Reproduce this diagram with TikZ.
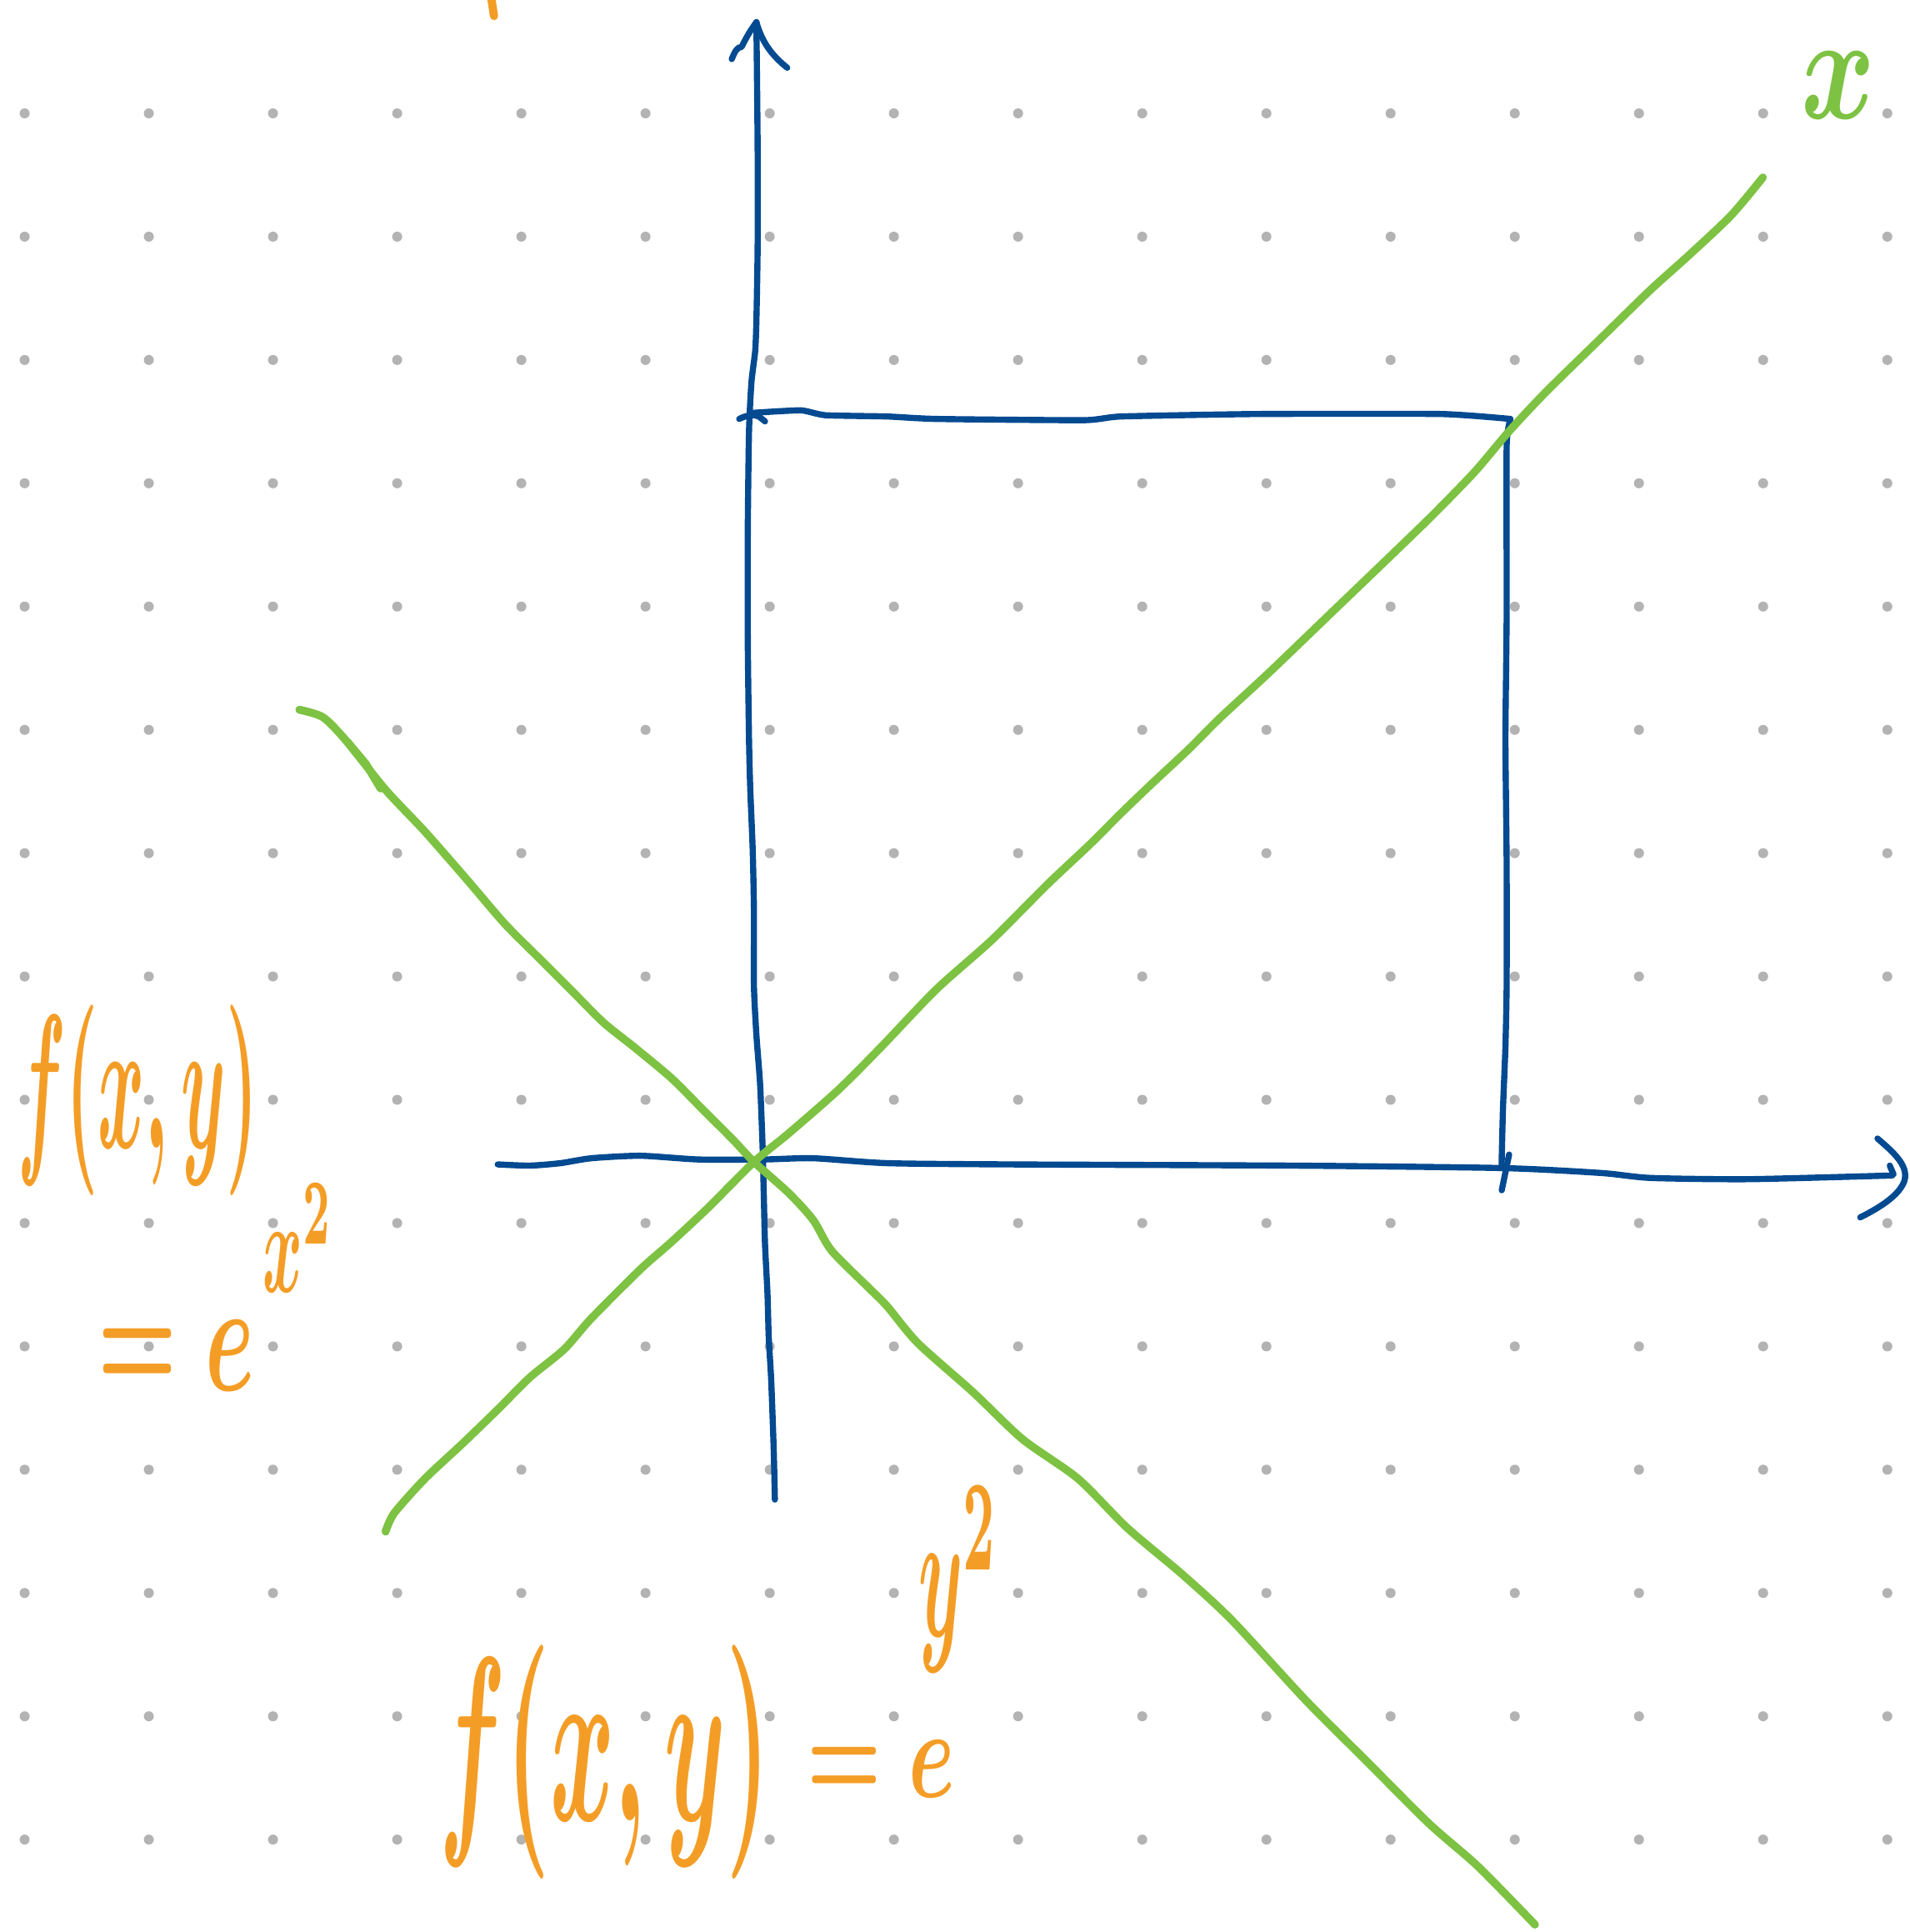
\documentclass[tikz,border=0pt]{standalone}
\usepackage{tikz}
\definecolor{inkblue}{RGB}{4,74,145}
\definecolor{inkgreen}{RGB}{125,194,66}
\definecolor{inkorange}{RGB}{244,157,38}
\definecolor{dotgray}{RGB}{179,179,179}
\begin{document}
\begin{tikzpicture}[x=0.1478mm,y=-0.1478mm,
  bluepen/.style={draw=inkblue,line width=2.1pt,line cap=round,line join=round},
  greenpen/.style={draw=inkgreen,line width=2.7pt,line cap=round,line join=round},
  orangepen/.style={draw=inkorange,line width=2.8pt,line cap=round},
  hand/.style={text=inkorange,inner sep=0pt},
  greenhand/.style={text=inkgreen,inner sep=0pt}]
\useasboundingbox (0,0) rectangle (1550,1568);
\fill[white] (0,0) rectangle (1550,1568);
% dot grid
\foreach \i in {0,...,15}{\foreach \j in {0,...,14}{
  \fill[dotgray] (20+100.8*\i,92+100.07*\j) circle (0.6mm);}}
% named points
\coordinate (O) at (612,943);
\coordinate (ytop) at (614,18);
\coordinate (ybot) at (629,1217);
\coordinate (xleft) at (404,945);
\coordinate (xright) at (1536,954);
\coordinate (boxTL) at (612,335);
\coordinate (boxTR) at (1226,340);
\coordinate (boxBR) at (1219,948);
% vertical axis
\draw[bluepen] plot[smooth,tension=0.4] coordinates {(629,1217) (628,1175) (626,1120) (624,1085) (623,1050) (621,1010) (620,970) (619,930) (617,880) (614,840) (612,800) (612,740) (611,690) (609,640) (608,600) (607,520) (607,430) (608,350) (610,310) (613,285) (614,260) (615,200) (615,120) (614,18)};
\draw[bluepen] (ytop) .. controls (608,26) and (604,34) .. (602,38) .. controls (598,38) and (596,43) .. (594,48);
\draw[bluepen] (ytop) .. controls (619,36) and (628,46) .. (639,55);
% horizontal axis
\draw[bluepen] plot[smooth,tension=0.4] coordinates {(404,945) (430,946) (455,944) (480,940) (520,938) (567,941) (620,941) (660,940) (720,944) (820,945) (1050,946) (1220,948) (1300,952) (1340,956) (1420,957) (1536,954)};
\draw[bluepen] (1524,924) .. controls (1538,936) and (1549,946) .. (1546,958) .. controls (1542,970) and (1526,980) .. (1510,988);
\draw[bluepen] (1534,946) -- (1537,953);
% box
\draw[bluepen] (600,340) .. controls (606,337) and (612,336) .. (616,338) -- (621,342);
\draw[bluepen] plot[smooth,tension=0.3] coordinates {(612,335) (650,333) (670,337) (720,338) (760,340) (880,341) (910,338) (1020,336) (1170,336) (1226,340)};
\draw[bluepen] plot[smooth,tension=0.3] coordinates {(1226,340) (1223,362) (1223,500) (1222,600) (1223,700) (1223,800) (1222,850) (1220,900) (1219,940) (1219,948)};
\draw[bluepen] (1225,937) -- (1219,966);
% green diagonal up-right
\draw[greenpen] plot[smooth,tension=0.45] coordinates {(313,1243) (320,1228) (345,1200) (375,1172) (405,1143) (430,1118) (458,1095) (480,1070) (520,1030) (545,1008) (575,980) (612,943) (640,920) (680,885) (715,850) (760,803) (805,763) (850,718) (885,685) (910,660) (935,636) (965,608) (990,583) (1030,546) (1080,498) (1130,450) (1163,418) (1197,383) (1225,350) (1255,318) (1300,274) (1340,235) (1370,208) (1405,175) (1431,144)};
% green diagonal down-right
\draw[greenpen] plot[smooth,tension=0.45] coordinates {(243,576) (262,582) (280,600) (313,641) (345,675) (380,715) (410,750) (440,780) (465,805) (490,830) (515,850) (545,875) (570,900) (595,925) (612,943) (640,968) (660,990) (675,1015) (705,1045) (720,1060) (745,1090) (790,1130) (830,1168) (875,1200) (915,1240) (960,1278) (1000,1315) (1060,1380) (1110,1430) (1160,1480) (1200,1515) (1246,1562)};
\draw[greenpen] (282,602) -- (297,620) -- (309,640);
% green label x
\node[greenhand] (lx) at (1492,69) {\resizebox*{8.9mm}{8.0mm}{\boldmath$x$}};
% orange mark at top
\draw[orangepen] (399,0) -- (401,13);
% left formula
\node[hand] (lf) at (112,893) {\resizebox*{28.8mm}{22.9mm}{\boldmath$f(x,y)$}};
\node[hand] (le) at (143,1100) {\resizebox*{18.8mm}{8.4mm}{\boldmath$=e$}};
\node[hand] (lexp) at (242,1005) {\resizebox*{8.4mm}{13.0mm}{\boldmath$x^2$}};
% bottom formula
\node[hand] (bf) at (491,1430) {\resizebox*{39.6mm}{28.1mm}{\boldmath$f(x,y)$}};
\node[hand] (be) at (715,1436) {\resizebox*{17.7mm}{6.8mm}{\boldmath$=e$}};
\node[hand] (bexp) at (778,1282) {\resizebox*{9.6mm}{22.3mm}{\boldmath$y^2$}};
\end{tikzpicture}
\end{document}
